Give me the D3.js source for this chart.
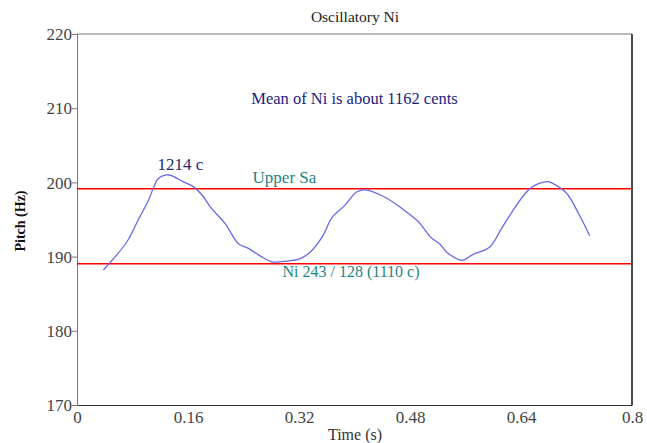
<!DOCTYPE html>
<html>
<head>
<meta charset="utf-8">
<script src="https://cdn.jsdelivr.net/npm/d3@7"></script>
<style>
  body { margin: 0; background: #fff; }
  text { font-family: "Liberation Serif", "DejaVu Serif", serif; }
</style>
</head>
<body>
<div id="chart"></div>
<script>
// pitch trace
var times = [0.038, 0.072, 0.088, 0.103, 0.110, 0.117, 0.132, 0.153, 0.168, 0.182, 0.192, 0.213,
  0.233, 0.245, 0.264, 0.281, 0.302, 0.321, 0.336, 0.355, 0.367, 0.386, 0.403, 0.415, 0.442,
  0.468, 0.492, 0.511, 0.523, 0.533, 0.555, 0.571, 0.595, 0.612, 0.629, 0.646, 0.655, 0.667,
  0.679, 0.689, 0.706, 0.723, 0.739];
var pitches = [188.2, 192.0, 194.9, 197.6, 199.2, 200.5, 201.0, 200.1, 199.4, 198.1, 196.7, 194.5,
  191.7, 191.2, 190.1, 189.3, 189.4, 189.7, 190.6, 192.9, 195.2, 196.9, 198.7, 199.0, 198.1,
  196.5, 194.7, 192.5, 191.7, 190.6, 189.5, 190.3, 191.3, 193.8, 196.3, 198.5, 199.3, 199.9,
  200.1, 199.7, 198.5, 195.8, 192.8];

var refNames = ["Upper Sa", "Ni 243 / 128 (1110 c)"];
var refValues = [199.15, 189.05];

var xTicks = [0, 0.16, 0.32, 0.48, 0.64, 0.8];
var yTicks = [170, 180, 190, 200, 210, 220];

var svgWidth = 647, svgHeight = 443;
var margin = {top: 34, right: 15, bottom: 38, left: 77};
var width = svgWidth - margin.left - margin.right;
var height = svgHeight - margin.top - margin.bottom;

var svg = d3.select("#chart").append("svg")
  .attr("width", svgWidth)
  .attr("height", svgHeight);

var chartGroup = svg.append("g")
  .attr("transform", `translate(${margin.left}, ${margin.top})`);

var x = d3.scaleLinear().domain([0, 0.8]).range([0, width]);
var y = d3.scaleLinear().domain([170, 220]).range([height, 0]);

// frame
chartGroup.append("line").attr("x1", 0).attr("x2", width).attr("y1", 0).attr("y2", 0)
  .attr("stroke", "#777").attr("stroke-width", 1);
chartGroup.append("line").attr("x1", width).attr("x2", width).attr("y1", 0).attr("y2", height)
  .attr("stroke", "#111").attr("stroke-width", 1.5);

// axes
var leftAxis = d3.axisLeft(y).tickValues(yTicks).tickSize(5).tickFormat(d3.format("d"));
var yAxis = chartGroup.append("g").call(leftAxis);
yAxis.select(".domain").attr("stroke", "#777");
yAxis.selectAll(".tick line").attr("stroke", "#777");
yAxis.selectAll("text").attr("fill", "#444").style("font-size", "17px")
  .style("font-family", "Liberation Serif, serif").attr("x", -5).attr("dy", "0.33em");

var bottomAxis = d3.axisBottom(x).tickValues(xTicks).tickSize(0)
  .tickFormat(function(d) { return d === 0 ? "0" : d3.format("")(+d.toFixed(2)); });
var xAxis = chartGroup.append("g").attr("transform", `translate(0, ${height})`).call(bottomAxis);
xAxis.select(".domain").attr("stroke", "#333");
xAxis.selectAll("text").attr("fill", "#444").style("font-size", "17px")
  .style("font-family", "Liberation Serif, serif").attr("y", 6);

// reference lines
chartGroup.selectAll(".ref")
  .data(refValues)
  .enter()
  .append("line")
  .attr("class", "ref")
  .attr("x1", 0).attr("x2", width)
  .attr("y1", d => y(d)).attr("y2", d => y(d))
  .attr("stroke", "#ff0000").attr("stroke-width", 1.5);

// pitch trace
var pts = times.map((t, i) => [t, pitches[i]]);
var line = d3.line().x(d => x(d[0])).y(d => y(d[1])).curve(d3.curveCatmullRom);
chartGroup.append("path")
  .datum(pts)
  .attr("d", line)
  .attr("fill", "none")
  .attr("stroke", "#6a6ae8")
  .attr("stroke-width", 1.3);

// annotations
chartGroup.append("text")
  .attr("x", x(0.149)).attr("y", y(201.7))
  .attr("text-anchor", "middle")
  .attr("fill", "#1e2a6e").style("font-size", "17px")
  .text("1214 c");

chartGroup.append("text")
  .attr("x", x(0.299)).attr("y", y(199.9))
  .attr("text-anchor", "middle")
  .attr("fill", "#1f8580").style("font-size", "17px")
  .text(refNames[0]);

chartGroup.append("text")
  .attr("x", x(0.395)).attr("y", y(187.3))
  .attr("text-anchor", "middle")
  .attr("fill", "#1f8580").style("font-size", "16px")
  .text(refNames[1]);

chartGroup.append("text")
  .attr("x", x(0.4)).attr("y", y(210.6))
  .attr("text-anchor", "middle")
  .attr("fill", "#1c1c80").style("font-size", "16.5px")
  .text("Mean of Ni is about 1162 cents");

// title and axis labels
svg.append("text")
  .attr("x", 355).attr("y", 22)
  .attr("text-anchor", "middle")
  .attr("fill", "#222").style("font-size", "15.5px")
  .text("Oscillatory Ni");

svg.append("text")
  .attr("x", 355).attr("y", 440)
  .attr("text-anchor", "middle")
  .attr("fill", "#333").style("font-size", "16px")
  .text("Time (s)");

svg.append("text")
  .attr("transform", "rotate(-90)")
  .attr("x", -221).attr("y", 25)
  .attr("text-anchor", "middle")
  .attr("fill", "#111").style("font-size", "14px").style("font-weight", "bold")
  .text("Pitch (Hz)");
</script>
</body>
</html>
